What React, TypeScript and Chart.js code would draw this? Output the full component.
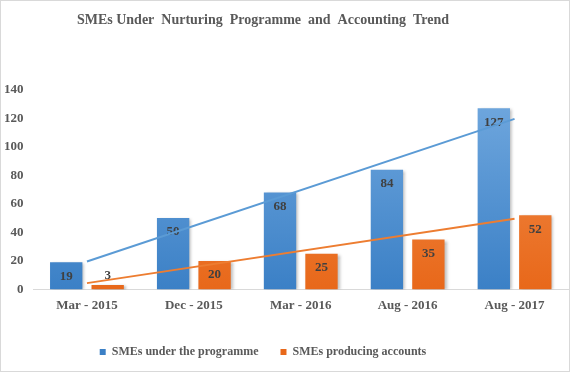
import React, { useEffect, useRef } from "react";
import { Chart, registerables } from "chart.js";

Chart.register(...registerables);

const categories = ["Mar - 2015", "Dec - 2015", "Mar - 2016", "Aug - 2016", "Aug - 2017"];
const smesUnderProgramme = [19, 50, 68, 84, 127];
const smesProducingAccounts = [3, 20, 25, 35, 52];
// Linear trendline endpoints (first and last category)
const trendProgramme = [19.6, null, null, null, 119.6];
const trendAccounts = [4.4, null, null, null, 49.6];
const yTicks = [0, 20, 40, 60, 80, 100, 120, 140];

const FONT = "'Liberation Serif', 'Times New Roman', serif";
const GREY = "#595959";

function gradient(ctx: any, area: any, top: string, bottom: string) {
  const g = ctx.createLinearGradient(0, area.top, 0, area.bottom);
  g.addColorStop(0, top);
  g.addColorStop(1, bottom);
  return g;
}

// The reference's title and legend sit a little left of the canvas centre
const blockShift = {
  id: "blockShift",
  afterLayout(chart: any) {
    const lg = chart.legend;
    if (lg) {
      lg.left -= 18;
      lg.right -= 18;
    }
    const tb = chart.titleBlock;
    if (tb) {
      tb.left -= 18;
      tb.right -= 18;
    }
  },
};

const barEffects = {
  id: "barEffects",
  beforeDatasetDraw(chart: any, args: any) {
    const ds = chart.data.datasets[args.index];
    if (ds.type === "line") return;
    const ctx = chart.ctx;
    ctx.save();
    ctx.shadowColor = "rgba(0,0,0,0.28)";
    ctx.shadowBlur = 3;
    ctx.shadowOffsetX = 2;
    ctx.shadowOffsetY = 1;
  },
  afterDatasetDraw(chart: any, args: any) {
    const ds = chart.data.datasets[args.index];
    if (ds.type === "line") return;
    const ctx = chart.ctx;
    ctx.restore();
    ctx.save();
    ctx.font = `bold 13px ${FONT}`;
    ctx.fillStyle = "#404040";
    ctx.textAlign = "center";
    ctx.textBaseline = "middle";
    const meta = chart.getDatasetMeta(args.index);
    meta.data.forEach((el: any, i: number) => {
      const v = ds.data[i];
      const h = el.base - el.y;
      const y = h < 20 ? el.y - 9 : el.y + 14;
      ctx.fillText(String(v), el.x, y);
    });
    ctx.restore();
  },
};

export default function App() {
  const ref = useRef<HTMLCanvasElement>(null);
  useEffect(() => {
    if (!ref.current) return;
    const chart = new Chart(ref.current, {
      type: "bar",
      data: {
        labels: categories,
        datasets: [
          {
            type: "line",
            label: "trendProgramme",
            data: trendProgramme as any,
            borderColor: "#5b9bd5",
            borderWidth: 2,
            pointRadius: 0,
            spanGaps: true,
            order: 0,
          } as any,
          {
            type: "line",
            label: "trendAccounts",
            data: trendAccounts as any,
            borderColor: "#ed7d31",
            borderWidth: 2,
            pointRadius: 0,
            spanGaps: true,
            order: 0,
          } as any,
          {
            label: "SMEs under the programme",
            data: smesUnderProgramme,
            backgroundColor: (c: any) => {
              const a = c.chart.chartArea;
              if (!a) return "#5b9bd5";
              return gradient(c.chart.ctx, a, "#72a9df", "#3b80c6");
            },
            order: 1,
          },
          {
            label: "SMEs producing accounts",
            data: smesProducingAccounts,
            backgroundColor: (c: any) => {
              const a = c.chart.chartArea;
              if (!a) return "#ed7d31";
              return gradient(c.chart.ctx, a, "#f2904f", "#e8681a");
            },
            order: 1,
          },
        ],
      },
      options: {
        animation: false,
        responsive: false,
        maintainAspectRatio: false,
        layout: { padding: { left: -7, right: 1, top: 0, bottom: 3 } },
        datasets: {
          bar: { categoryPercentage: 0.776, barPercentage: 0.78 },
        },
        plugins: {
          title: {
            display: true,
            text: "SMEs Under  Nurturing  Programme  and  Accounting  Trend",
            color: GREY,
            font: { family: FONT, size: 14, weight: "bold" },
            padding: { top: 11, bottom: 61 },
          },
          legend: {
            position: "bottom",
            labels: {
              filter: (item: any) => !item.text.startsWith("trend"),
              boxWidth: 6,
              boxHeight: 6,
              padding: 22,
              color: GREY,
              font: { family: FONT, size: 12, weight: "bold" },
            },
          },
          tooltip: { enabled: false },
        },
        scales: {
          x: {
            grid: { display: false, drawTicks: false },
            border: { display: true, color: "#d9d9d9" },
            afterFit: (s: any) => {
              s.height += 3;
            },
            ticks: {
              color: GREY,
              font: { family: FONT, size: 13, weight: "bold" },
              padding: 8,
            },
          },
          y: {
            min: 0,
            max: 140,
            grid: { display: false, drawTicks: false },
            border: { display: false },
            afterBuildTicks: (s: any) => {
              s.ticks = yTicks.map((v) => ({ value: v }));
            },
            ticks: {
              color: GREY,
              font: { family: FONT, size: 13, weight: "bold" },
              padding: 10,
            },
          },
        },
      },
      plugins: [barEffects, blockShift],
    } as any);
    return () => chart.destroy();
  }, []);
  return (
    <div
      style={{
        position: "fixed",
        left: 0,
        top: 0,
        width: 568,
        height: 370,
        border: "1px solid #d9d9d9",
        background: "#fff",
      }}
    >
      <canvas ref={ref} width={568} height={370} style={{ display: "block" }} />
    </div>
  );
}
